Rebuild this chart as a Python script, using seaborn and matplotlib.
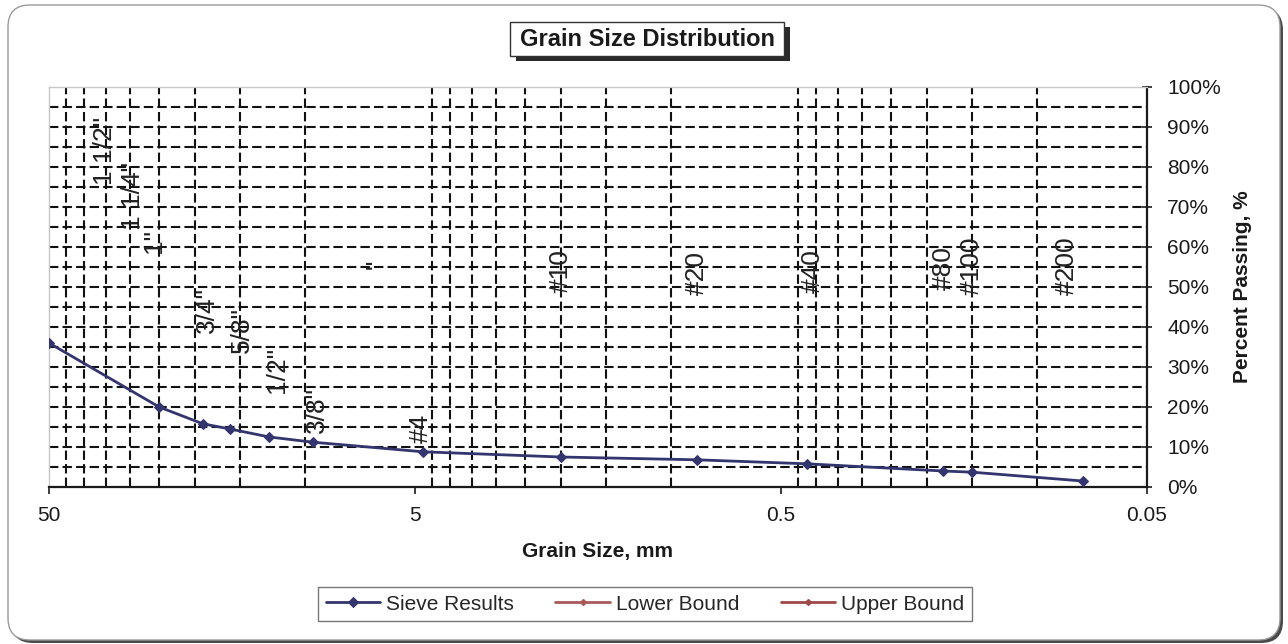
import matplotlib
matplotlib.use("Agg")
import matplotlib.pyplot as plt
import seaborn as sns
import pandas as pd
from matplotlib.patches import FancyBboxPatch, Rectangle
from matplotlib.ticker import FixedLocator, FuncFormatter, NullLocator
from matplotlib.transforms import IdentityTransform

# Sieve results (grain size in mm, percent passing)
sieve_sizes = [50, 25, 19, 16, 12.5, 9.5, 4.75, 2.0, 0.85, 0.425, 0.18, 0.15, 0.075]
percent_passing = [36, 20, 15.8, 14.5, 12.5, 11.2, 8.8, 7.5, 6.8, 5.8, 4.0, 3.7, 1.5]

# Bounds are empty in the source chart (legend only)
lower_bound_sizes = []
lower_bound_pct = []
upper_bound_sizes = []
upper_bound_pct = []

# Sieve labels written along the chart
sieve_names = ['1 1/2"', '1 1/4"', '1"', '3/4"', '5/8"', '1/2"', '3/8"', '"',
               '#4', '#10', '#20', '#40', '#80', '#100', '#200']
sieve_openings = [37.5, 31.75, 25, 19, 16, 12.5, 9.5, 6.3,
                  4.75, 2.0, 0.85, 0.425, 0.18, 0.15, 0.075]
label_base = [75.5, 64.3, 58.5, 38.5, 33.5, 23.5, 13.5, 54.5,
              11, 48.5, 48, 48.5, 49.3, 48, 48]
label_dx = [10, 12, -5, 4, 12, 8, 4, -2, -2, 0, 0, 6, 0, 0, -16]  # pixel nudges

x_ticks = [50, 5, 0.5, 0.05]
y_ticks = list(range(0, 101, 10))

W, H = 1288, 644

sns.set_style("white")
plt.rcParams["font.family"] = ["Liberation Sans", "DejaVu Sans"]

fig = plt.figure(figsize=(W / 100, H / 100), dpi=100)
fig.patch.set_facecolor("white")

# Outer rounded frame with shadow
shadow = FancyBboxPatch((11, 1), 1272, 635, boxstyle="round,pad=0,rounding_size=22",
                        fc="#4a4a4a", ec="none", transform=IdentityTransform(), zorder=-20)
frame = FancyBboxPatch((8, 4), 1272, 635, boxstyle="round,pad=0,rounding_size=22",
                       fc="white", ec="#9a9a9a", lw=1, transform=IdentityTransform(), zorder=-19)
fig.add_artist(shadow)
fig.add_artist(frame)

ax = fig.add_axes([49 / W, 1 - 487 / H, (1147 - 49) / W, 400 / H])
ax.set_facecolor("white")

# Dashed grid
grid_kw = dict(color="#111111", lw=1.5, ls=(0, (4.5, 2.0)), zorder=1)
minor_x = [m * k for m in (0.05, 0.5, 5) for k in range(2, 10)]
for xv in minor_x:
    ax.axvline(xv, **grid_kw)
for yv in range(5, 100, 5):
    ax.axhline(yv, **grid_kw)

# Data
df = pd.DataFrame({"size": sieve_sizes, "passing": percent_passing})
sns.lineplot(data=df, x="size", y="passing", ax=ax, sort=False, color="#34346e",
             lw=2, marker="D", markersize=5, markeredgecolor="#34346e",
             label="Sieve Results", zorder=3)
ax.plot(lower_bound_sizes, lower_bound_pct, color="#a85a5a", lw=2, marker="D",
        markersize=3, label="Lower Bound")
ax.plot(upper_bound_sizes, upper_bound_pct, color="#a04848", lw=2, marker="D",
        markersize=3, label="Upper Bound")

# Axes
ax.set_xscale("log")
ax.set_xlim(50, 0.05)
ax.set_ylim(0, 100)
ax.xaxis.set_major_locator(FixedLocator(x_ticks))
ax.xaxis.set_major_formatter(FuncFormatter(lambda v, p: f"{v:g}"))
ax.xaxis.set_minor_locator(NullLocator())
ax.yaxis.tick_right()
ax.yaxis.set_label_position("right")
ax.set_yticks(y_ticks)
ax.yaxis.set_major_formatter(FuncFormatter(lambda v, p: f"{v:.0f}%"))
ax.yaxis.set_minor_locator(NullLocator())
ax.tick_params(axis="y", right=True, left=False, direction="inout", length=7,
               width=1.2, pad=11, labelsize=15, colors="#1a1a1a")
ax.tick_params(axis="x", bottom=True, direction="out", length=5, width=1.2,
               pad=9, labelsize=15, colors="#1a1a1a")

for side in ("left", "top"):
    ax.spines[side].set_color("#c8c8c8")
    ax.spines[side].set_linewidth(1)
for side in ("right", "bottom"):
    ax.spines[side].set_color("#1a1a1a")
    ax.spines[side].set_linewidth(1.6)

ax.set_xlabel("Grain Size, mm", fontsize=15, fontweight="bold", labelpad=12, color="#1a1a1a")
ax.set_ylabel("Percent Passing, %", fontsize=15, fontweight="bold", labelpad=9, color="#1a1a1a")

# Rotated sieve labels (narrow face, like the original)
for name, size, base, dx in zip(sieve_names, sieve_openings, label_base, label_dx):
    ax.annotate(name, xy=(size, base), xytext=(dx * 0.72, 0), textcoords="offset points",
                rotation=90, ha="center", va="bottom", fontsize=19, color="#222222",
                family=["Liberation Sans Narrow", "Liberation Sans"], zorder=4)

# Title box with shadow
tb_left, tb_right, tb_top, tb_bottom = 510, 784, 22, 56
fig.add_artist(Rectangle((tb_left + 6, H - tb_bottom - 5), tb_right - tb_left, tb_bottom - tb_top,
                         fc="#2a2a2a", ec="none", transform=IdentityTransform(), zorder=5))
fig.add_artist(Rectangle((tb_left, H - tb_bottom), tb_right - tb_left, tb_bottom - tb_top,
                         fc="white", ec="#333333", lw=1, transform=IdentityTransform(), zorder=6))
fig.text((tb_left + tb_right) / 2 / W, 1 - (tb_top + tb_bottom) / 2 / H,
         "Grain Size Distribution", ha="center", va="center", fontsize=17,
         fontweight="bold", color="#1a1a1a", zorder=7)

# Legend
handles, labels = ax.get_legend_handles_labels()
if ax.get_legend() is not None:
    ax.get_legend().remove()
leg = fig.legend(handles, labels, loc="center", bbox_to_anchor=(645 / W, 1 - 604 / H),
                 ncol=3, frameon=True, fancybox=False, edgecolor="#777777", fontsize=15,
                 handlelength=2.6, handletextpad=0.3, columnspacing=2.0, borderpad=0.35,
                 framealpha=1)
leg.get_frame().set_linewidth(1)

fig.savefig("out.png", dpi=100, facecolor="white")
